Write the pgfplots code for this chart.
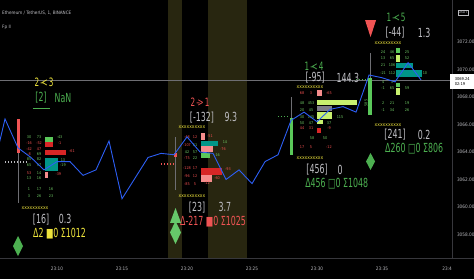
\documentclass[border=0pt]{standalone}
\usepackage{fontspec}
\setmainfont{DejaVu Sans Condensed}
\newfontfamily\tvnarrow[FakeStretch=0.7]{DejaVu Sans Condensed}
\usepackage{pgfplots}
\pgfplotsset{compat=1.18}

\definecolor{band}{RGB}{40,38,16}
\definecolor{pline}{RGB}{45,95,245}
\definecolor{tvgreen}{RGB}{76,175,80}
\definecolor{tvlgreen}{RGB}{102,200,106}
\definecolor{tvyellow}{RGB}{238,228,60}
\definecolor{tvred}{RGB}{240,84,84}
\definecolor{tvgrey}{RGB}{190,190,195}
\definecolor{tickgrey}{RGB}{185,185,190}
\definecolor{axgrey}{RGB}{55,55,60}
\definecolor{wick}{RGB}{110,110,115}
\definecolor{fpteal}{RGB}{0,150,136}
\definecolor{fppink}{RGB}{245,140,140}
\definecolor{fpred}{RGB}{215,38,38}
\definecolor{fplime}{RGB}{200,240,110}
\definecolor{fpgreen}{RGB}{90,200,90}
\definecolor{fpgray}{RGB}{125,125,135}
\definecolor{numgreen}{RGB}{110,200,100}
\definecolor{numred}{RGB}{240,80,80}

% horizontal footprint bar / candle body: x1 x2 y1 y2 colour
\newcommand{\fpbar}[5]{\addplot[fill=#5,draw=none] coordinates {(#1,#3) (#2,#3) (#2,#4) (#1,#4)};}
% small footprint numbers
\newcommand{\gn}[3]{\node[num,text=numgreen] at (#1,#2) {#3};}
\newcommand{\rn}[3]{\node[num,text=numred] at (#1,#2) {#3};}

\begin{document}
\begin{tikzpicture}[
  num/.style={font=\fontsize{3.8}{3.8}\selectfont, inner sep=0pt},
  lbl/.style={font=\tvnarrow\fontsize{12.5}{12.5}\selectfont, inner sep=0pt},
  arr/.style={font=\tvnarrow\fontsize{11.5}{11.5}\selectfont, inner sep=0pt},
  zig/.style={font=\fontsize{5}{5}\selectfont, inner sep=0pt, text=tvyellow},
]
\path[use as bounding box, fill=black] (0pt,-21pt) rectangle (474pt,258pt);

\begin{axis}[
  at={(0pt,0pt)}, anchor=south west,
  width=452pt, height=258pt, scale only axis,
  xmin=5.615, xmax=40.38, ymin=3056.29, ymax=3075.055,
  axis x line*=bottom, axis y line*=right,
  axis line style={draw=axgrey, line width=0.6pt, -},
  major tick length=0pt, tick style={draw=none},
  no markers,
  xtick={10,15,20,25,30,35,40},
  xticklabels={23:10,23:15,23:20,23:25,23:30,23:35,23:4},
  ytick={3058,3060,3062,3064,3066,3068,3070,3072},
  yticklabels={3058.00,3060.00,3062.00,3064.00,3066.00,3068.00,3070.00,3072.00},
  tick label style={font=\fontsize{4.7}{4.7}\selectfont, text=tickgrey},
  xticklabel shift=5.5pt, yticklabel shift=1.5pt,
]
% highlighted minutes
\fpbar{18.5}{19.6}{3056.29}{3075.06}{band}
\fpbar{21.6}{24.6}{3056.29}{3075.06}{band}

% last price line
\addplot[draw=wick, line width=0.5pt] coordinates {(5.615,3069.24) (40.38,3069.24)};

% ---------- cluster 23:07 ----------
\addplot[draw=wick, line width=0.7pt] coordinates {(7.0,3066.40) (7.0,3060.29)};
\fpbar{6.92}{7.15}{3066.40}{3063.93}{tvred}
\addplot[draw=tickgrey, line width=1.1pt, dash pattern=on 1.1pt off 1.9pt] coordinates {(6.0,3063.27) (7.77,3063.27)};
\fpbar{9.08}{9.69}{3065.09}{3064.73}{fpgreen}
\fpbar{9.08}{9.69}{3064.73}{3064.36}{fpred}
\fpbar{9.08}{10.69}{3064.15}{3063.78}{fpred}
\fpbar{9.08}{10.08}{3063.56}{3062.62}{fpteal}
\fpbar{9.08}{9.31}{3062.55}{3062.11}{fppink}
\gn{7.85}{3065.09}{30} \gn{8.62}{3065.09}{73} \gn{10.2}{3065.09}{-43}
\rn{7.85}{3064.65}{-16} \rn{8.62}{3064.65}{-52} \rn{10.2}{3064.65}{-1}
\rn{7.85}{3064.22}{-42} \rn{8.62}{3064.22}{47} \rn{11.15}{3064.07}{-61}
\rn{7.85}{3063.85}{-8} \gn{8.62}{3063.85}{69}
\gn{7.85}{3063.49}{85} \gn{8.62}{3063.49}{82} \gn{10.46}{3063.42}{13}
\gn{7.85}{3063.05}{65} \gn{8.62}{3063.05}{57} \gn{10.46}{3063.05}{-19}
\rn{7.85}{3062.47}{53} \gn{8.62}{3062.47}{14} \rn{10.1}{3062.38}{-39}
\gn{7.85}{3062.11}{13} \gn{8.62}{3062.11}{16}
\gn{7.85}{3061.31}{1} \gn{8.62}{3061.31}{17} \gn{9.54}{3061.31}{16}
\gn{7.85}{3060.80}{3} \gn{8.62}{3060.80}{26} \gn{9.54}{3060.80}{23}
\node[arr,text=tvyellow] at (9.0,3069.1) {2\kern1pt–\kern-2.2pt<\kern1pt3};
\node[lbl,text=tvgreen] at (8.77,3067.93) {[2]};
\node[lbl,text=tvgreen] at (10.46,3067.93) {NaN};
\addplot[draw=tvgreen, line width=0.6pt] coordinates {(8.15,3067.2) (9.46,3067.2)};
\node[zig] at (8.31,3059.93) {xxxxxxxxxx};
\node[lbl,text=tvgrey] at (8.77,3059.10) {[16]};
\node[lbl,text=tvgrey] at (10.615,3059.10) {0.3};
\node[lbl,text=tvyellow,anchor=west] at (8.15,3058.05) {Δ2 ■0 Σ1012};
\addplot[fill=tvgreen,draw=none] coordinates {(6.615,3057.16) (7.0,3057.89) (7.385,3057.16) (7.0,3056.43)};

% ---------- cluster 23:19 ----------
\addplot[draw=wick, line width=0.7pt] coordinates {(19.08,3065.09) (19.08,3061.24)};
\fpbar{18.98}{19.2}{3063.95}{3063.65}{tvred}
\addplot[draw=tvred, line width=1.1pt, dash pattern=on 1.1pt off 1.9pt] coordinates {(18.0,3063.13) (19.0,3063.13)};
\fpbar{21.08}{21.38}{3065.38}{3064.87}{fppink}
\fpbar{21.08}{22.38}{3064.80}{3064.44}{fpteal}
\fpbar{21.08}{22.0}{3064.44}{3064.00}{fppink}
\fpbar{21.08}{21.77}{3063.93}{3063.56}{fpgreen}
\fpbar{21.08}{22.69}{3062.84}{3062.33}{fpred}
\fpbar{21.08}{21.92}{3062.33}{3061.82}{fppink}
\rn{20.0}{3065.09}{-48} \rn{20.615}{3065.09}{12} \rn{21.77}{3065.15}{-51}
\rn{20.0}{3064.51}{-107} \gn{20.615}{3064.51}{61} \gn{22.92}{3064.71}{14}
\gn{20.0}{3064.00}{42} \gn{20.615}{3064.00}{57} \rn{22.77}{3064.22}{-76}
\rn{20.0}{3063.56}{-75} \gn{20.615}{3063.56}{22} \gn{22.31}{3063.78}{-16}
\rn{20.0}{3062.84}{-128} \rn{20.615}{3062.84}{17} \rn{23.15}{3062.76}{-93}
\rn{20.0}{3062.25}{-96} \rn{20.615}{3062.25}{12} \rn{22.31}{3062.11}{-60}
\rn{20.0}{3061.67}{-85} \rn{20.615}{3061.67}{5} \rn{21.54}{3061.75}{-12}
\node[arr,text=tvred] at (21.0,3067.62) {2\kern1pt–\kern-2.2pt>\kern1pt1};
\node[lbl,text=tvgrey] at (21.15,3066.52) {[-132]};
\node[lbl,text=tvgrey] at (23.38,3066.52) {9.3};
\node[zig] at (20.38,3065.80) {xxxxxxxxxx};
\node[zig] at (20.38,3060.80) {xxxxxxxxxx};
\node[lbl,text=tvgrey] at (20.77,3059.98) {[23]};
\node[lbl,text=tvgrey] at (22.92,3059.98) {3.7};
\node[lbl,text=tvred,anchor=west] at (19.46,3058.92) {Δ-217 ■0 Σ1025};
\addplot[fill=tvlgreen,draw=none] coordinates {(19.115,3059.93) (19.54,3058.84) (18.69,3058.84)};
\addplot[fill=tvlgreen,draw=none] coordinates {(18.69,3058.15) (19.115,3058.98) (19.54,3058.15) (19.115,3057.31)};

% ---------- cluster 23:28 ----------
\addplot[draw=wick, line width=0.7pt] coordinates {(28.05,3068.0) (28.05,3066.47)};
\fpbar{27.92}{28.15}{3066.47}{3063.78}{fpgreen}
\addplot[draw=tvgreen, line width=1.1pt, dash pattern=on 1.1pt off 1.9pt] coordinates {(27.0,3066.55) (27.9,3066.55)};
\fpbar{30.0}{30.38}{3068.51}{3068.07}{fppink}
\fpbar{30.0}{33.08}{3067.78}{3067.42}{fplime}
\fpbar{30.0}{31.15}{3067.35}{3066.98}{fpgray}
\fpbar{30.0}{31.15}{3066.91}{3066.40}{fplime}
\fpbar{30.0}{30.46}{3066.33}{3066.04}{fplime}
\fpbar{30.0}{30.31}{3065.75}{3065.38}{fpred}
\rn{28.85}{3068.29}{68} \rn{29.54}{3068.29}{3} \rn{30.92}{3068.29}{-65}
\gn{28.85}{3067.56}{48} \gn{29.54}{3067.56}{453}
\gn{28.85}{3067.05}{20} \gn{29.54}{3067.05}{45}
\gn{28.85}{3066.55}{30} \gn{29.54}{3066.55}{145} \gn{31.77}{3066.55}{115}
\gn{28.85}{3066.11}{50} \gn{29.54}{3066.11}{47} \gn{30.92}{3066.11}{37}
\rn{28.85}{3065.75}{44} \rn{29.54}{3065.75}{31} \rn{30.92}{3065.75}{-9}
\gn{29.62}{3065.02}{58} \gn{30.62}{3065.02}{50}
\rn{28.85}{3064.36}{17} \rn{29.54}{3064.36}{5} \rn{30.92}{3064.36}{-12}
\node[num,text=numgreen,rotate=90] at (33.77,3067.56) {585};
\node[arr,text=tvgreen] at (29.77,3070.25) {1\kern1pt–\kern-2.2pt<\kern1pt4};
\node[lbl,text=tvgrey] at (29.85,3069.38) {[-95]};
\node[lbl,text=tvgrey] at (32.38,3069.38) {144.3};
\node[zig] at (29.46,3068.73) {xxxxxxxxxx};
\node[zig] at (29.46,3063.56) {xxxxxxxxxx};
\node[lbl,text=tvgrey] at (30.0,3062.69) {[456]};
\node[lbl,text=tvgrey] at (31.77,3062.69) {0};
\node[lbl,text=tvgreen,anchor=west] at (29.08,3061.72) {Δ456 □0 Σ1048};
\addplot[fill=tvgreen,draw=none] coordinates {(33.77,3063.31) (34.115,3063.93) (34.46,3063.31) (34.115,3062.69)};

% ---------- cluster 23:34 ----------
\addplot[draw=wick, line width=0.7pt] coordinates {(34.08,3071.2) (34.08,3069.24)};
\fpbar{33.92}{34.23}{3069.38}{3066.69}{fpgreen}
\addplot[draw=tvgreen, line width=1.1pt, dash pattern=on 1.1pt off 1.9pt] coordinates {(33.0,3069.24) (33.9,3069.24)};
\fpbar{36.08}{36.38}{3071.56}{3071.20}{fpgreen}
\fpbar{36.08}{36.38}{3071.05}{3070.55}{fplime}
\fpbar{36.08}{37.38}{3070.47}{3070.11}{fpteal}
\fpbar{36.08}{38.08}{3069.96}{3069.46}{fpteal}
\fpbar{36.08}{36.38}{3069.02}{3068.73}{fpgreen}
\fpbar{36.08}{36.38}{3068.66}{3068.15}{fplime}
\gn{35.08}{3071.27}{24} \gn{35.77}{3071.27}{46} \gn{36.92}{3071.27}{25}
\gn{35.08}{3070.84}{13} \gn{35.77}{3070.84}{65} \gn{36.92}{3070.84}{52}
\gn{35.08}{3070.33}{21} \gn{35.77}{3070.33}{106}
\gn{35.08}{3069.75}{-21} \gn{35.77}{3069.75}{112} \gn{38.3}{3069.75}{10}
\gn{35.08}{3069.09}{4} \gn{35.77}{3069.09}{3}
\gn{35.08}{3068.66}{-1} \gn{35.77}{3068.66}{65} \gn{36.92}{3068.66}{59}
\gn{35.08}{3067.56}{2} \gn{35.77}{3067.56}{21} \gn{36.92}{3067.56}{19}
\gn{35.08}{3067.05}{-1} \gn{35.77}{3067.05}{34} \gn{36.92}{3067.05}{26}
\addplot[fill=tvred,draw=none] coordinates {(33.69,3073.6) (34.54,3073.6) (34.115,3072.36)};
\node[arr,text=tvgreen] at (36.08,3073.82) {1\kern1pt–\kern-2.2pt<\kern1pt5};
\node[lbl,text=tvgrey] at (36.0,3072.68) {[-44]};
\node[lbl,text=tvgrey] at (38.23,3072.68) {1.3};
\node[zig] at (35.46,3071.95) {xxxxxxxxxx};
\node[zig] at (35.46,3065.96) {xxxxxxxxxx};
\node[lbl,text=tvgrey] at (36.0,3065.24) {[241]};
\node[lbl,text=tvgrey] at (38.23,3065.24) {0.2};
\node[lbl,text=tvgreen,anchor=west] at (35.23,3064.26) {Δ260 □0 Σ806};

% ---------- 1-minute close ----------
\addplot[draw=pline, line width=0.9pt] coordinates {
 (5,3062.4) (6,3066.4) (7,3064.3) (8,3063.6) (9,3062.7) (10,3063.3)
 (11,3063.3) (12,3062.3) (13,3062.7) (14,3064.8) (15,3060.6) (16,3062.1)
 (17,3063.6) (18,3063.9) (19,3063.8) (20,3065.1) (21,3064.0) (22,3063.9)
 (23,3062.0) (24,3062.7) (25,3061.7) (26,3063.3) (27,3063.8) (28,3066.3)
 (29,3066.9) (30,3066.2) (31,3067.1) (32,3067.3) (33,3066.9) (34,3069.6)
 (35,3069.4) (36,3069.1) (37,3070.5) (38,3069.24)};
\end{axis}

% price scale extras
\draw[axgrey, line width=0.6pt] (0pt,0pt) -- (474pt,0pt);
\node[fill=white, text=black, font=\fontsize{4}{4.8}\selectfont, align=left,
      anchor=west, inner sep=1.2pt, minimum width=24pt, minimum height=15pt]
      at (450pt,176.5pt) {3069.24\\02:19};
\node[draw=tickgrey, line width=0.3pt, text=tickgrey, font=\fontsize{3.6}{3.6}\selectfont, inner sep=0.9pt]
      at (463pt,245.5pt) {USDT};
\node[anchor=west, text=tvgrey, font=\fontsize{4.6}{4.6}\selectfont, inner sep=0pt]
      at (2pt,245pt) {Ethereum / TetherUS, 1, BINANCE};
\node[anchor=west, text=tvgrey, font=\fontsize{4.6}{4.6}\selectfont, inner sep=0pt]
      at (2pt,231pt) {Fp II};
\end{tikzpicture}
\end{document}
